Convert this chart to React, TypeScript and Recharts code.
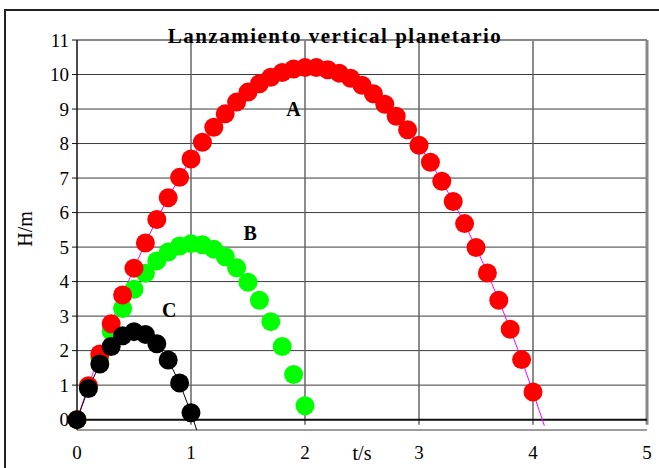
import { ComposedChart, Line, XAxis, YAxis, CartesianGrid, ReferenceLine, ReferenceDot } from 'recharts'

// t in s, H in m — three bodies thrown up at 10 m/s on different planets
const tA = [0, 0.1, 0.2, 0.3, 0.4, 0.5, 0.6, 0.7, 0.8, 0.9, 1.0, 1.1, 1.2, 1.3, 1.4, 1.5, 1.6, 1.7, 1.8, 1.9, 2.0,
  2.1, 2.2, 2.3, 2.4, 2.5, 2.6, 2.7, 2.8, 2.9, 3.0, 3.1, 3.2, 3.3, 3.4, 3.5, 3.6, 3.7, 3.8, 3.9, 4.0]
const hA = [0, 0.98, 1.9, 2.78, 3.61, 4.39, 5.12, 5.8, 6.43, 7.02, 7.55, 8.04, 8.47, 8.86, 9.2, 9.49, 9.73, 9.92, 10.06, 10.16, 10.2,
  10.2, 10.14, 10.04, 9.89, 9.69, 9.44, 9.14, 8.79, 8.4, 7.95, 7.46, 6.91, 6.32, 5.68, 4.99, 4.25, 3.46, 2.62, 1.74, 0.8]
const tailA = { t: 4.1, h: -0.18 }

const tB = [0, 0.1, 0.2, 0.3, 0.4, 0.5, 0.6, 0.7, 0.8, 0.9, 1.0, 1.1, 1.2, 1.3, 1.4, 1.5, 1.6, 1.7, 1.8, 1.9, 2.0]
const hB = [0, 0.95, 1.8, 2.56, 3.22, 3.78, 4.24, 4.6, 4.86, 5.03, 5.1, 5.07, 4.94, 4.72, 4.4, 3.98, 3.46, 2.84, 2.12, 1.31, 0.4]

const tC = [0, 0.1, 0.2, 0.3, 0.4, 0.5, 0.6, 0.7, 0.8, 0.9, 1.0]
const hC = [0, 0.9, 1.61, 2.12, 2.43, 2.55, 2.47, 2.2, 1.73, 1.06, 0.2]
const tailC = { t: 1.05, h: -0.3 }

const xTicks = [0, 1, 2, 3, 4, 5]
const yTicks = [0, 1, 2, 3, 4, 5, 6, 7, 8, 9, 10, 11]

const seriesLabels = [
  { name: 'A', t: 1.9, h: 9.0 },
  { name: 'B', t: 1.52, h: 5.41 },
  { name: 'C', t: 0.81, h: 3.19 },
]

const toPoints = (ts: number[], hs: number[]) => ts.map((t, i) => ({ t, h: hs[i] }))

const pointsA = toPoints(tA, hA)
const pointsB = toPoints(tB, hB)
const pointsC = toPoints(tC, hC)
const curveA = [...pointsA, tailA]
const curveC = [...pointsC, tailC]

const serif = 'Liberation Serif'
const tickStyle = { fontSize: 19, fill: '#000', style: { fontFamily: serif } }

const marker = (color: string) => ({ r: 9.5, fill: color, stroke: 'none', strokeWidth: 0, clipDot: false })

export default function App() {
  return (
    <div
      style={{
        position: 'absolute', left: 0, top: 0, width: 659, height: 468,
        overflow: 'hidden', background: '#fff', fontFamily: serif,
      }}
    >
      <div
        style={{
          position: 'absolute', left: 4, top: 9, width: 700, height: 500,
          borderLeft: '2px solid #222', borderTop: '2px solid #222',
        }}
      />
      <ComposedChart width={659} height={468} margin={{ top: 40, right: 12, bottom: 1, left: 17 }} style={{ fontFamily: serif }}>
        <CartesianGrid vertical={false} stroke="#3a3a3a" strokeWidth={1} />
        <XAxis
          type="number"
          dataKey="t"
          domain={[0, 5]}
          ticks={xTicks}
          axisLine={false}
          tickLine={false}
          tickSize={6}
          tickMargin={10}
          height={37}
          tick={tickStyle}
        />
        <YAxis
          type="number"
          dataKey="h"
          domain={[-0.3, 11]}
          ticks={yTicks}
          width={60}
          axisLine={{ stroke: '#111', strokeWidth: 1.5 }}
          tickLine={{ stroke: '#111' }}
          tickSize={5}
          tickMargin={3}
          tick={tickStyle}
        />
        {xTicks.slice(1, -1).map((k) => (
          <ReferenceLine key={k} segment={[{ x: k, y: -0.15 }, { x: k, y: 11 }]} stroke="#666" strokeWidth={1.5} />
        ))}
        <ReferenceLine segment={[{ x: 5, y: -0.15 }, { x: 5, y: 11 }]} stroke="#888" strokeWidth={3} />
        <ReferenceLine y={11} stroke="#888" strokeWidth={2} />
        <ReferenceLine y={0} stroke="#111" strokeWidth={2} />

        <Line data={pointsB} dataKey="h" stroke="none" dot={marker('#00FF00')} activeDot={false} isAnimationActive={false} />
        <Line data={curveA} dataKey="h" stroke="#FF00FF" strokeWidth={1} dot={false} activeDot={false} isAnimationActive={false} />
        <Line data={pointsA} dataKey="h" stroke="none" dot={marker('#FF0000')} activeDot={false} isAnimationActive={false} />
        <Line data={curveC} dataKey="h" stroke="#000" strokeWidth={1} dot={false} activeDot={false} isAnimationActive={false} />
        <Line data={pointsC} dataKey="h" stroke="none" dot={marker('#000000')} activeDot={false} isAnimationActive={false} />

        {seriesLabels.map((s) => (
          <ReferenceDot
            key={s.name}
            x={s.t}
            y={s.h}
            r={0}
            fill="none"
            stroke="none"
            label={{ value: s.name, position: 'center', fontSize: 20, fontWeight: 'bold', fill: '#000', style: { fontFamily: serif } }}
          />
        ))}
      </ComposedChart>
      <svg width={659} height={468} style={{ position: 'absolute', left: 0, top: 0, pointerEvents: 'none', fontFamily: serif }}>
        <text x={335} y={43} textAnchor="middle" fontSize={21} fontWeight="bold" letterSpacing={1.5} fill="#000">
          Lanzamiento vertical planetario
        </text>
        <text x={362} y={460} textAnchor="middle" fontSize={20} fill="#000">
          t/s
        </text>
        <text x={0} y={0} transform="translate(31.5 229) rotate(-90)" textAnchor="middle" fontSize={20} fill="#000">
          H/m
        </text>
      </svg>
    </div>
  )
}
